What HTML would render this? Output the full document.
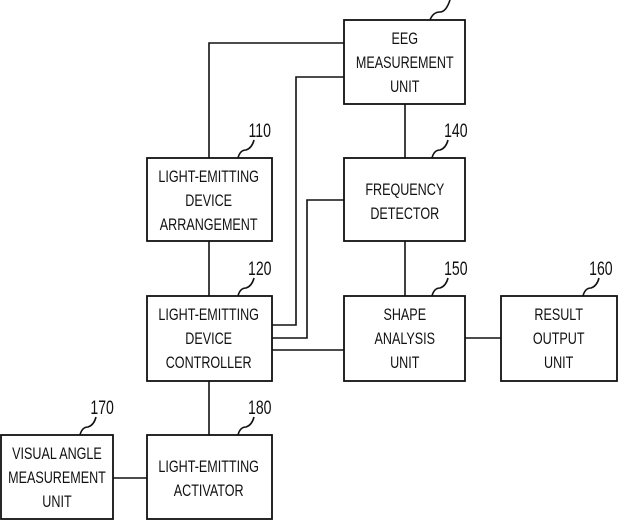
<!DOCTYPE html>
<html><head><meta charset="utf-8"><style>
body{margin:0;background:#fff;}
svg{display:block}
text{font-family:"Liberation Sans",sans-serif;font-size:17px;fill:#111;text-anchor:middle}
.n{font-size:19px}
</style></head><body>
<svg width="618" height="520" viewBox="0 0 618 520" xmlns="http://www.w3.org/2000/svg">
<g fill="none" stroke="#111" stroke-width="1.6">
<polyline points="209,158 209,43 344,43"/>
<polyline points="272,325 296,325 296,77 344,77"/>
<polyline points="272,338 307,338 307,200 344,200"/>
<line x1="272" y1="350" x2="344" y2="350"/>
<line x1="405" y1="104" x2="405" y2="158"/>
<line x1="405" y1="241" x2="405" y2="296"/>
<line x1="209" y1="241" x2="209" y2="296"/>
<line x1="209" y1="381" x2="209" y2="435"/>
<line x1="465" y1="338" x2="501" y2="338"/>
<line x1="113" y1="478" x2="147" y2="478"/>
<path d="M430,20 q3,-8 10,-8 q6,0 10,-12"/>
<path d="M238,158 q2,-8 8,-8 q6,-2 8,-10"/>
<path d="M432,158 q2,-8 8,-8 q6,-2 8,-10"/>
<path d="M238,296 q2,-8 8,-8 q6,-2 8,-10"/>
<path d="M432,296 q2,-8 8,-8 q6,-2 8,-10"/>
<path d="M583,296 q2,-8 8,-8 q6,-2 8,-10"/>
<path d="M80,435 q2,-8 8,-8 q6,-2 8,-10"/>
<path d="M238,435 q2,-8 8,-8 q6,-2 8,-10"/>
</g>
<g fill="#fff" stroke="#111" stroke-width="1.8">
<rect x="344" y="20" width="121" height="84"/>
<rect x="147" y="158" width="125" height="83"/>
<rect x="344" y="158" width="121" height="83"/>
<rect x="147" y="296" width="125" height="85"/>
<rect x="344" y="296" width="121" height="85"/>
<rect x="501" y="296" width="116" height="85"/>
<rect x="1" y="435" width="112" height="84"/>
<rect x="147" y="435" width="125" height="84"/>
</g>
<g transform="scale(0.74,1)">
<text x="547" y="44">EEG</text><text x="547" y="68">MEASUREMENT</text><text x="547" y="92">UNIT</text>
<text x="282" y="182">LIGHT-EMITTING</text><text x="282" y="206">DEVICE</text><text x="282" y="230">ARRANGEMENT</text>
<text x="547" y="195">FREQUENCY</text><text x="547" y="219">DETECTOR</text>
<text x="282" y="320">LIGHT-EMITTING</text><text x="282" y="344">DEVICE</text><text x="282" y="368">CONTROLLER</text>
<text x="547" y="320">SHAPE</text><text x="547" y="344">ANALYSIS</text><text x="547" y="368">UNIT</text>
<text x="755" y="320">RESULT</text><text x="755" y="344">OUTPUT</text><text x="755" y="368">UNIT</text>
<text x="77" y="459">VISUAL ANGLE</text><text x="77" y="483">MEASUREMENT</text><text x="77" y="507">UNIT</text>
<text x="282" y="472">LIGHT-EMITTING</text><text x="282" y="496">ACTIVATOR</text>
<text class="n" x="351" y="137">110</text><text class="n" x="616" y="137">140</text>
<text class="n" x="351" y="275">120</text><text class="n" x="616" y="275">150</text>
<text class="n" x="812" y="275">160</text>
<text class="n" x="138" y="414">170</text><text class="n" x="351" y="414">180</text>
</g>
</svg>
</body></html>
